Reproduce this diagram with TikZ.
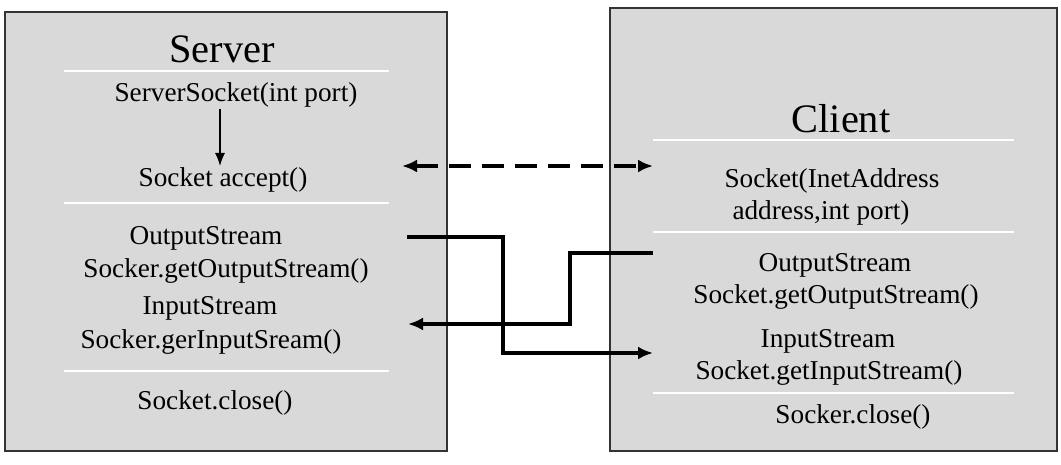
\documentclass[tikz,border=0pt]{standalone}
\usepackage{fontspec}
\setmainfont{Liberation Serif}
\usetikzlibrary{arrows.meta}

\tikzset{
	box/.style = {draw = black!80, line width = 1pt, fill = black!15},
	txt/.style = {anchor = base, inner sep = 1pt, font = \fontsize{15.5}{18}\selectfont},
	heading/.style = {anchor = base, inner sep = 1pt, font = \fontsize{23}{27}\selectfont},
	sep/.style = {draw = white, line width = 0.8pt},
	link/.style = {line width = 1.9pt, > = {Latex[length = 0.3cm, width = 0.26cm]}, ->}
}

\begin{document}
\begin{tikzpicture}
		\useasboundingbox (0cm, 0cm) rectangle (21.22cm, -9.30cm);

		% server box
		\node (server) at (4.52cm, -4.63cm) [box, minimum width = 8.84cm, minimum height = 8.78cm] {};
		\node (servertitle) at (4.44cm, -1.26cm) [heading] {Server};
		\draw [sep] (1.28cm, -1.42cm) -- (7.78cm, -1.42cm);
		\node (ssock) at (4.72cm, -2.03cm) [txt] {ServerSocket(int port)};
		\node (accept) at (4.46cm, -3.74cm) [txt] {Socket accept()};
		\draw [line width = 0.8pt, -{Latex[length = 0.26cm, width = 0.2cm]}] (ssock.south -| 4.40cm, 0cm) -- (accept.north -| 4.40cm, 0cm);
		\draw [sep] (1.28cm, -4.06cm) -- (7.78cm, -4.06cm);
		\node (sout) at (4.12cm, -4.88cm) [txt] {OutputStream};
		\node (sgetout) at (4.52cm, -5.54cm) [txt] {Socker.getOutputStream()};
		\node (sin) at (4.20cm, -6.28cm) [txt] {InputStream};
		\node (sgetin) at (4.22cm, -6.96cm) [txt] {Socker.gerInputSream()};
		\draw [sep] (1.28cm, -7.42cm) -- (7.78cm, -7.42cm);
		\node (sclose) at (4.30cm, -8.18cm) [txt] {Socket.close()};

		% client box
		\node (client) at (16.67cm, -4.59cm) [box, minimum width = 8.94cm, minimum height = 8.86cm] {};
		\node (clienttitle) at (16.82cm, -2.66cm) [heading] {Client};
		\draw [sep] (13.06cm, -2.80cm) -- (20.28cm, -2.80cm);
		\node (csock) at (16.64cm, -3.76cm) [txt] {Socket(InetAddress};
		\node (caddr) at (16.42cm, -4.40cm) [txt] {address,int port)};
		\draw [sep] (13.06cm, -4.64cm) -- (20.28cm, -4.64cm);
		\node (cout) at (16.70cm, -5.42cm) [txt] {OutputStream};
		\node (cgetout) at (16.72cm, -6.06cm) [txt] {Socket.getOutputStream()};
		\node (cin) at (16.56cm, -6.94cm) [txt] {InputStream};
		\node (cgetin) at (16.58cm, -7.58cm) [txt] {Socket.getInputStream()};
		\draw [sep] (13.06cm, -7.86cm) -- (20.28cm, -7.86cm);
		\node (cclose) at (17.06cm, -8.46cm) [txt] {Socker.close()};

		% connection
		\coordinate (sconn) at (8.04cm, -3.32cm);
		\coordinate (cconn) at (13.06cm, -3.32cm);
		\draw [link, <->, dash pattern = on 0.44cm off 0.22cm] (sconn) -- (cconn);

		% server output -> client input
		\coordinate (souttail) at (8.14cm, -4.74cm);
		\coordinate (cinhead) at (13.06cm, -7.06cm);
		\draw [link] (souttail) -- (10.06cm, -4.74cm) |- (cinhead);

		% client output -> server input
		\coordinate (couttail) at (13.06cm, -5.06cm);
		\coordinate (sinhead) at (8.16cm, -6.48cm);
		\draw [link] (couttail) -- (11.40cm, -5.06cm) |- (sinhead);
	\end{tikzpicture}
\end{document}
